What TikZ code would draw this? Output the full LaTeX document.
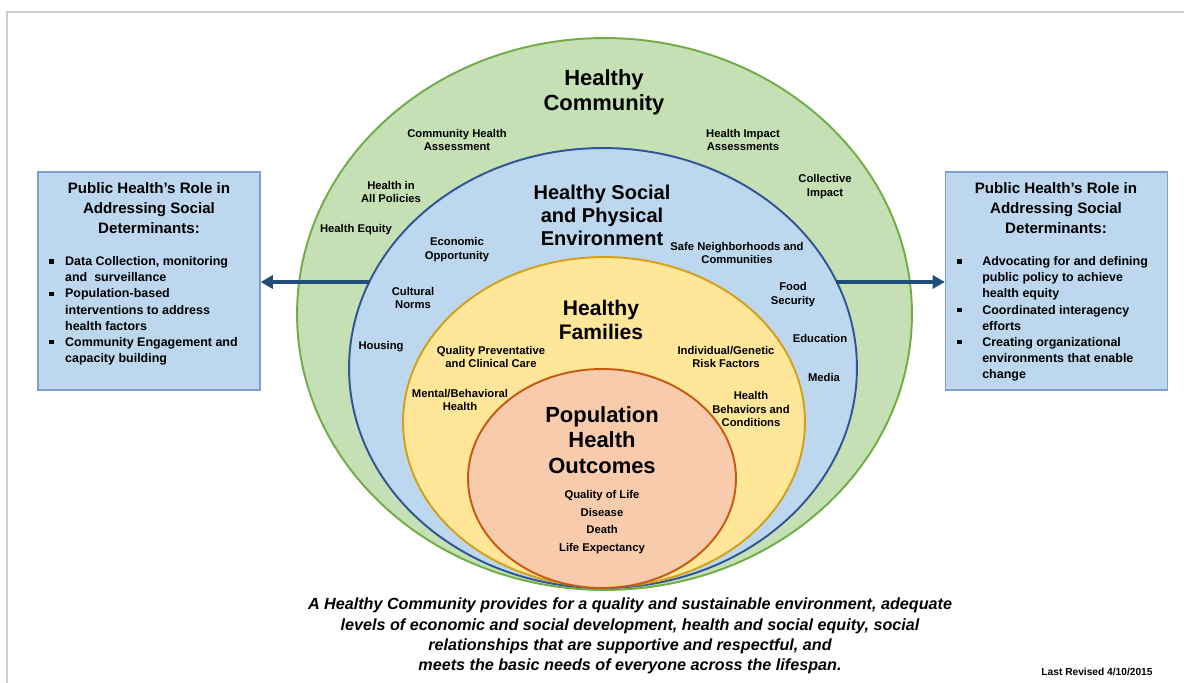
\documentclass[tikz,border=0pt]{standalone}
\usepackage{fontspec}
\setmainfont{Liberation Sans}
\usetikzlibrary{shapes.geometric,arrows.meta,positioning}

\definecolor{commgreen}{HTML}{C5E0B4}
\definecolor{commline}{HTML}{70AD47}
\definecolor{envblue}{HTML}{BDD7EE}
\definecolor{envline}{HTML}{2F5597}
\definecolor{famyellow}{HTML}{FFE699}
\definecolor{famline}{HTML}{D4A017}
\definecolor{outpeach}{HTML}{F8CBAD}
\definecolor{outorange}{HTML}{C55A11}
\definecolor{arrowblue}{HTML}{1F4E79}
\definecolor{boxline}{HTML}{7F9FCF}

\newcommand{\sq}{\rule[1.2pt]{2.4pt}{2.4pt}}

\begin{document}
\begin{tikzpicture}[x=0.02cm, y=-0.02cm,
    ring/.style = {ellipse, draw, line width=1.1pt, inner sep=0pt, outer sep=0pt},
    big/.style = {align=center, font=\fontsize{12.5}{14.4}\selectfont\bfseries},
    lbl/.style = {align=center, font=\fontsize{6.4}{7.9}\selectfont\bfseries},
    rolebox/.style = {draw=boxline, fill=envblue, line width=0.8pt, inner sep=0pt, minimum width=4.44cm, minimum height=4.36cm},
    roletitle/.style = {align=center, font=\fontsize{8.6}{11.6}\selectfont\bfseries},
    rolelist/.style = {inner sep=0pt, anchor=north west, font=\fontsize{7.1}{9.2}\selectfont\bfseries},
    arr/.style = {draw=arrowblue, line width=2.2pt, -{Triangle[length=7pt,width=7.5pt]}}]

\useasboundingbox (0,0) rectangle (1184,683);
\draw[black!20, line width=0.7pt] (7,683) -- (7,12) -- (1184,12);

% nested rings
\node[ring, draw=commline, fill=commgreen, minimum width=12.3cm, minimum height=11.04cm] (comm) at (604.5,314) {};
\node[ring, draw=envline, fill=envblue, minimum width=10.16cm, minimum height=8.8cm] (env) at (603,368) {};
\node[ring, draw=famline, fill=famyellow, minimum width=8.04cm, minimum height=6.6cm] (fam) at (604,422) {};
\node[ring, draw=outorange, fill=outpeach, minimum width=5.36cm, minimum height=4.38cm] (pop) at (602,478.5) {};

% community ring
\node[big] (commtitle) at (604,92) {Healthy\\Community};
\node[lbl] (cha) at (457,140) {Community Health\\Assessment};
\node[lbl] (hia) at (743,140) {Health Impact\\Assessments};
\node[lbl] (hiap) at (391,192) {Health in\\All Policies};
\node[lbl] (coll) at (825,187) {Collective\\Impact};
\node[lbl] (equity) at (356,230) {Health Equity};

% environment ring
\node[big, font=\fontsize{11.4}{13}\selectfont\bfseries] (envtitle) at (602,215) {Healthy Social\\and Physical\\Environment};
\node[lbl] (econ) at (457,250) {Economic\\Opportunity};
\node[lbl] (safe) at (737,253) {Safe Neighborhoods and\\Communities};
\node[lbl] (cult) at (413,298) {Cultural\\Norms};
\node[lbl] (food) at (793,295) {Food\\Security};
\node[lbl] (housing) at (381,347) {Housing};
\node[lbl] (edu) at (820,338) {Education};
\node[lbl] (media) at (824,377) {Media};

% families ring
\node[big, font=\fontsize{12}{13.6}\selectfont\bfseries] (famtitle) at (601,320) {Healthy\\Families};
\node[lbl] (care) at (491,357) {Quality Preventative\\and Clinical Care};
\node[lbl] (gene) at (726,357) {Individual/Genetic\\Risk Factors};
\node[lbl] (mental) at (460,400) {Mental/Behavioral\\Health};
\node[lbl] (behav) at (751,409) {Health\\Behaviors and\\Conditions};

% outcomes
\node[big] (poptitle) at (602,440) {Population\\Health\\Outcomes};
\node[lbl, font=\fontsize{6.4}{10}\selectfont\bfseries] (outc) at (602,522) {Quality of Life\\Disease\\Death\\Life Expectancy};

% role boxes
\node[rolebox] (lrole) at (149,281) {};
\node[roletitle] (ltitle) at (149,208) {Public Health’s Role in\\Addressing Social\\Determinants:};
\node[rolelist] (llist) at (49,254) {\begin{tabular}{@{}p{9pt}@{}l@{}}
\sq & Data Collection, monitoring\\
 & and\ \ surveillance\\
\sq & Population-based\\
 & interventions to address\\
 & health factors\\
\sq & Community Engagement and\\
 & capacity building
\end{tabular}};

\node[rolebox] (rrole) at (1056.5,281) {};
\node[roletitle] (rtitle) at (1056,208) {Public Health’s Role in\\Addressing Social\\Determinants:};
\node[rolelist] (rlist) at (957,254) {\begin{tabular}{@{}p{14.2pt}@{}l@{}}
\sq & Advocating for and defining\\
 & public policy to achieve\\
 & health equity\\
\sq & Coordinated interagency\\
 & efforts\\
\sq & Creating organizational\\
 & environments that enable\\
 & change
\end{tabular}};

% arrows leave the environment ring
\coordinate (lstart) at (370,282);
\coordinate (rstart) at (836,282);
\draw[arr] (lstart) -- (lstart -| lrole.east);
\draw[arr] (rstart) -- (rstart -| rrole.west);

% caption
\node[align=center, font=\fontsize{9.2}{11.5}\selectfont\bfseries\itshape] (motto) at (630,636)
  {A Healthy Community provides for a quality and sustainable environment, adequate\\
   levels of economic and social development, health and social equity, social\\
   relationships that are supportive and respectful, and\\
   meets the basic needs of everyone across the lifespan.};
\node[font=\fontsize{5.8}{7}\selectfont\bfseries] (rev) at (1097,672) {Last Revised 4/10/2015};
\end{tikzpicture}
\end{document}
